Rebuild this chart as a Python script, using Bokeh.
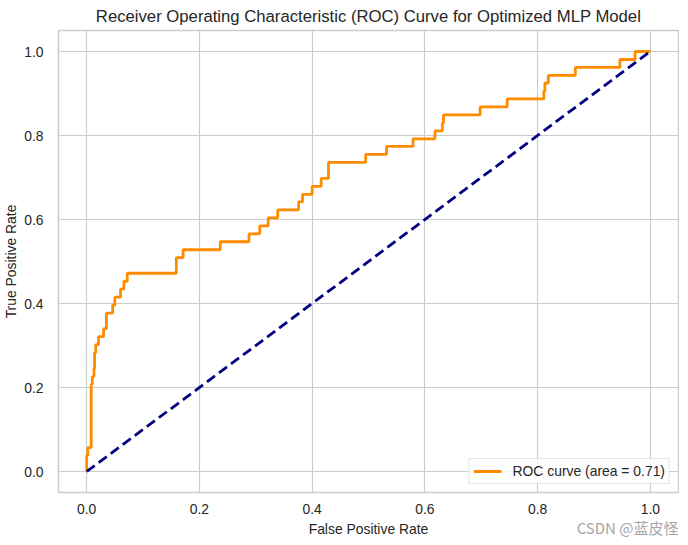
from bokeh.plotting import figure
from bokeh.models import Range1d, FixedTicker, Title, Legend, LegendItem
from bokeh.embed import file_html
from bokeh.resources import INLINE

# ROC curve corner points
fpr = [0.0, 0.0, 0.002, 0.002, 0.008, 0.008, 0.010, 0.010, 0.013, 0.013,
       0.014, 0.014, 0.016, 0.016, 0.021, 0.021, 0.030, 0.030, 0.035, 0.035,
       0.046, 0.046, 0.050, 0.050, 0.060, 0.060, 0.066, 0.066, 0.072, 0.072,
       0.159, 0.159, 0.171, 0.171, 0.237, 0.237, 0.288, 0.288, 0.307, 0.307,
       0.322, 0.322, 0.339, 0.339, 0.376, 0.376, 0.383, 0.383, 0.400, 0.400,
       0.416, 0.416, 0.429, 0.429, 0.495, 0.495, 0.532, 0.532, 0.579, 0.579,
       0.618, 0.618, 0.631, 0.631, 0.633, 0.633, 0.698, 0.698, 0.746, 0.746,
       0.811, 0.811, 0.813, 0.813, 0.819, 0.819, 0.867, 0.867, 0.946, 0.946,
       0.973, 0.973, 1.0]
tpr = [0.0, 0.038, 0.038, 0.057, 0.057, 0.208, 0.208, 0.226, 0.226, 0.245,
       0.245, 0.283, 0.283, 0.302, 0.302, 0.321, 0.321, 0.340, 0.340, 0.377,
       0.377, 0.396, 0.396, 0.415, 0.415, 0.434, 0.434, 0.453, 0.453, 0.472,
       0.472, 0.509, 0.509, 0.528, 0.528, 0.547, 0.547, 0.566, 0.566, 0.585,
       0.585, 0.604, 0.604, 0.623, 0.623, 0.642, 0.642, 0.660, 0.660, 0.679,
       0.679, 0.698, 0.698, 0.736, 0.736, 0.755, 0.755, 0.774, 0.774, 0.792,
       0.792, 0.811, 0.811, 0.830, 0.830, 0.849, 0.849, 0.868, 0.868, 0.887,
       0.887, 0.906, 0.906, 0.925, 0.925, 0.943, 0.943, 0.962, 0.962, 0.981,
       0.981, 1.0, 1.0]
roc_auc = 0.71

diag_x = [0.0, 1.0]
diag_y = [0.0, 1.0]

tick_values = [0.0, 0.2, 0.4, 0.6, 0.8, 1.0]
tick_labels = ["0.0", "0.2", "0.4", "0.6", "0.8", "1.0"]

title_text = "Receiver Operating Characteristic (ROC) Curve for Optimized MLP Model"
x_label = "False Positive Rate"
y_label = "True Positive Rate"
watermark = "CSDN @蓝皮怪"

FONT = "Liberation Sans"
TXT = "#262626"
GRID = "#cccccc"

p = figure(frame_width=620, frame_height=462,
           x_range=Range1d(-0.05, 1.05), y_range=Range1d(-0.05, 1.05),
           output_backend="svg", toolbar_location=None,
           min_border_left=51, min_border_right=1, min_border_top=22,
           min_border_bottom=40)

p.title.text = title_text
p.title.align = "center"
p.title.text_font = FONT
p.title.text_font_size = "16.7px"
p.title.text_font_style = "normal"
p.title.text_color = TXT
p.title.standoff = 9

p.background_fill_color = "white"
p.border_fill_color = "white"
p.outline_line_color = GRID
p.outline_line_width = 1.5

for ax in (p.xaxis, p.yaxis):
    ax.ticker = FixedTicker(ticks=tick_values)
    ax.major_label_overrides = {v: s for v, s in zip(tick_values, tick_labels)}
    ax.major_tick_line_color = None
    ax.minor_tick_line_color = None
    ax.axis_line_color = None
    ax.major_label_text_font = FONT
    ax.major_label_text_font_size = "13.9px"
    ax.major_label_text_color = TXT
    ax.axis_label_text_font = FONT
    ax.axis_label_text_font_size = "13.9px"
    ax.axis_label_text_font_style = "normal"
    ax.axis_label_text_color = TXT

p.xaxis.axis_label = x_label
p.yaxis.axis_label = y_label
p.xaxis.major_label_standoff = 5
p.xaxis.axis_label_standoff = 4
p.yaxis.major_label_standoff = 9
p.yaxis.axis_label_standoff = 2

p.xgrid.ticker = FixedTicker(ticks=tick_values)
p.ygrid.ticker = FixedTicker(ticks=tick_values)
p.grid.grid_line_color = GRID
p.grid.grid_line_width = 1.2

roc = p.line(fpr, tpr, line_color="#ff8c00", line_width=2.8)
p.line(diag_x, diag_y, line_color="#000080", line_width=2.8, line_dash="10 5")

legend = Legend(items=[LegendItem(label="ROC curve (area = %.2f)" % roc_auc, renderers=[roc])],
                location="bottom_right", margin=8, padding=4, spacing=0,
                glyph_width=28, glyph_height=14, label_height=14, label_standoff=11,
                label_text_font=FONT, label_text_font_size="13.9px", label_text_color=TXT,
                border_line_color=GRID, border_line_width=1,
                background_fill_color="white", background_fill_alpha=0.8)
p.add_layout(legend)

# watermark drawn from the bottom panel, pulled up into the x-label row
wm = Title(text=watermark, align="right", vertical_align="top", standoff=-46,
           text_font="Noto Sans CJK SC", text_font_size="15px",
           text_font_style="normal", text_color="#a6a6a6")
p.add_layout(wm, "below")

open("out.html", "w").write(file_html(p, INLINE))
